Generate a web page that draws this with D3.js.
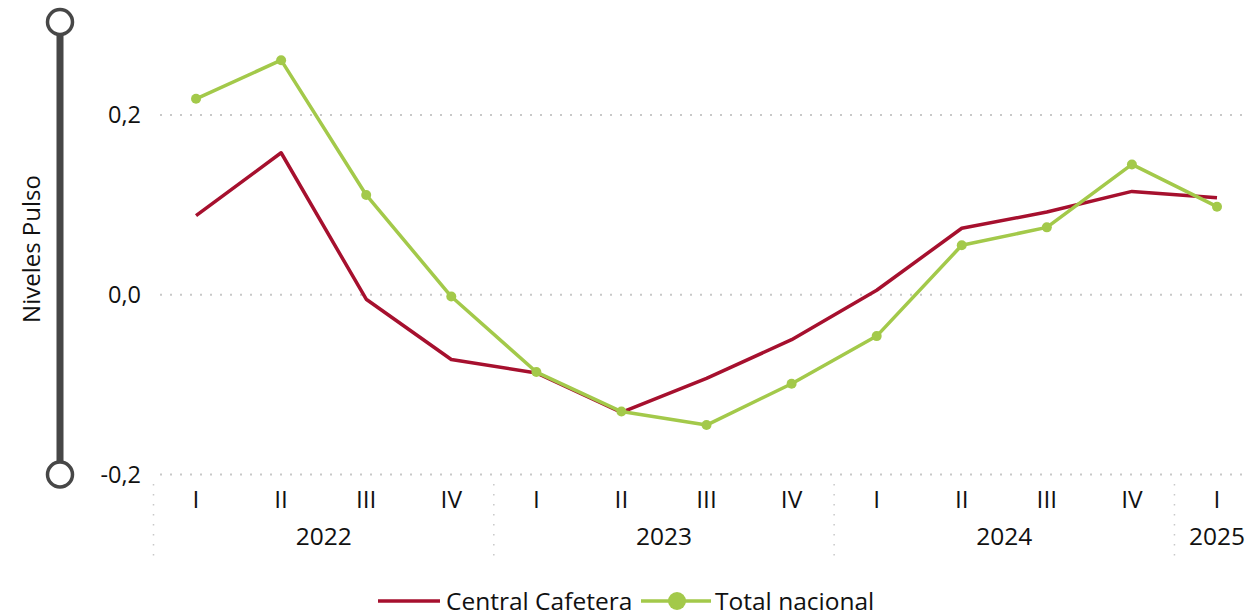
<!DOCTYPE html>
<html>
<head>
<meta charset="utf-8">
<script src="https://cdn.jsdelivr.net/npm/d3@7"></script>
<style>
body { margin: 0; background: #fff; }
svg { font-family: "Open Sans", "Noto Sans", sans-serif; }
</style>
</head>
<body>
<svg width="1248" height="616"></svg>
<script>
// quarters and years
var quarters = ["I","II","III","IV","I","II","III","IV","I","II","III","IV","I"]
var years = ["2022","2023","2024","2025"]
var yearStart = [0,4,8,12]
var yearCount = [4,4,4,1]
var yTicks = [-0.2, 0.0, 0.2]

// series
var centralCafetera = [0.088,0.158,-0.005,-0.072,-0.087,-0.131,-0.093,-0.050,0.005,0.074,0.092,0.115,0.108]
var totalNacional = [0.218,0.261,0.111,-0.002,-0.086,-0.130,-0.145,-0.099,-0.046,0.055,0.075,0.145,0.098]

var red = "#a6102e"
var green = "#a3c94a"
var ink = "#111"

var svg = d3.select("svg")
var idx = d3.range(quarters.length)

var x = d3.scaleBand()
    .domain(idx)
    .range([153.5, 153.5 + 85.08*13])
    .padding(0)
var cx = function(i){ return x(i) + x.bandwidth()/2 }

var y = d3.scaleLinear()
    .domain([-0.2, 0.2])
    .range([474.5, 115])

// grid lines
svg.append("g").selectAll("line")
    .data(yTicks)
    .enter()
    .append("line")
    .attr("x1",160).attr("x2",1248)
    .attr("y1",function(d){return y(d)})
    .attr("y2",function(d){return y(d)})
    .attr("stroke","#c8c8c8")
    .attr("stroke-width",2)
    .attr("stroke-dasharray","2,8")

// y tick labels
var fmt = function(d){ return d3.format(".1f")(d).replace(".",",").replace("−","-") }
svg.append("g").selectAll("text")
    .data(yTicks)
    .enter()
    .append("text")
    .attr("x",141)
    .attr("y",function(d){return y(d)})
    .attr("dy","0.35em")
    .attr("text-anchor","end")
    .attr("font-size",23.5)
    .attr("fill",ink)
    .text(fmt)

// slider decoration on the left
svg.append("line")
    .attr("x1",60).attr("x2",60)
    .attr("y1",y(0.2)-93).attr("y2",y(-0.2))
    .attr("stroke","#474747")
    .attr("stroke-width",7)
svg.selectAll("circle.knob")
    .data([y(0.2)-93, y(-0.2)])
    .enter()
    .append("circle")
    .attr("class","knob")
    .attr("cx",60)
    .attr("cy",function(d){return d})
    .attr("r",12.5)
    .attr("fill","#fff")
    .attr("stroke","#474747")
    .attr("stroke-width",3.5)

svg.append("text")
    .attr("transform","translate(40,249) rotate(-90)")
    .attr("text-anchor","middle")
    .attr("font-size",24)
    .attr("fill",ink)
    .text("Niveles Pulso")

// x axis: separators, quarters, years
svg.append("g").selectAll("line")
    .data(yearStart)
    .enter()
    .append("line")
    .attr("x1",function(i){return x(i)})
    .attr("x2",function(i){return x(i)})
    .attr("y1",484).attr("y2",557)
    .attr("stroke","#c8c8c8")
    .attr("stroke-width",1.5)
    .attr("stroke-dasharray","1.5,8.5")

svg.append("g").selectAll("text")
    .data(idx)
    .enter()
    .append("text")
    .attr("x",cx)
    .attr("y",508)
    .attr("text-anchor","middle")
    .attr("font-size",24.5)
    .attr("fill",ink)
    .text(function(i){return quarters[i]})

svg.append("g").selectAll("text")
    .data(years)
    .enter()
    .append("text")
    .attr("x",function(d,k){ return (cx(yearStart[k]) + cx(yearStart[k]+yearCount[k]-1))/2 })
    .attr("y",545)
    .attr("text-anchor","middle")
    .attr("font-size",24.5)
    .attr("fill",ink)
    .text(function(d){return d})

// lines
var line = d3.line()
    .x(function(d,i){return cx(i)})
    .y(function(d){return y(d)})

svg.append("path")
    .attr("d",line(centralCafetera))
    .attr("fill","none")
    .attr("stroke",red)
    .attr("stroke-width",3.5)
    .attr("stroke-linejoin","round")

svg.append("path")
    .attr("d",line(totalNacional))
    .attr("fill","none")
    .attr("stroke",green)
    .attr("stroke-width",3.5)
    .attr("stroke-linejoin","round")

svg.append("g").selectAll("circle")
    .data(totalNacional)
    .enter()
    .append("circle")
    .attr("cx",function(d,i){return cx(i)})
    .attr("cy",function(d){return y(d)})
    .attr("r",5)
    .attr("fill",green)

// legend
var lg = svg.append("g").attr("transform","translate(0,601)")
lg.append("line").attr("x1",378).attr("x2",440).attr("y1",0).attr("y2",0)
    .attr("stroke",red).attr("stroke-width",3.5)
lg.append("text").attr("x",446).attr("y",0).attr("dy","0.35em")
    .attr("font-size",24.5).attr("fill",ink).text("Central Cafetera")
lg.append("line").attr("x1",641).attr("x2",711).attr("y1",0).attr("y2",0)
    .attr("stroke",green).attr("stroke-width",3.5)
lg.append("circle").attr("cx",677).attr("cy",0).attr("r",9).attr("fill",green)
lg.append("text").attr("x",715).attr("y",0).attr("dy","0.35em")
    .attr("font-size",24.5).attr("fill",ink).text("Total nacional")
</script>
</body>
</html>
